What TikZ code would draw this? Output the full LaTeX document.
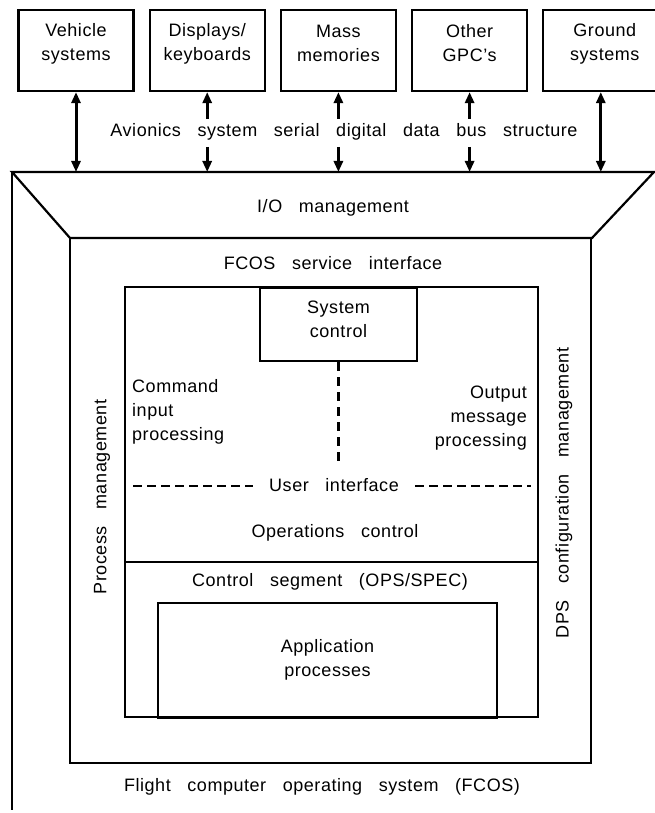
\documentclass[tikz,border=0pt]{standalone}
\usepackage{fontspec}
\setmainfont{Liberation Sans}[LetterSpace=3,WordSpace=3]
\usetikzlibrary{arrows.meta,positioning}

\begin{document}
\begin{tikzpicture}[x=1pt,y=-1pt,node distance=14pt,>={Triangle[length=11pt,width=9pt]},
    font=\fontsize{18}{24}\selectfont]
    \tikzstyle{unit}=[rectangle,draw,line width=2.2pt,minimum width=115pt,minimum height=81pt,inner sep=0pt]
    \tikzstyle{txt}=[align=center,inner sep=0pt]
    \tikzstyle{bus}=[line width=3pt]
    \tikzstyle{frame}=[line width=2.2pt]
    \tikzstyle{dashline}=[line width=2.2pt,dash pattern=on 9pt off 5pt]
    \useasboundingbox (0,0) rectangle (655,813);

    % units on the bus
    \node [unit] (veh) at (76,50.5) [label={[txt,yshift=7pt]center:Vehicle\\systems}] {};
    \node [unit] (disp) [right=of veh, label={[txt,yshift=7pt]center:Displays/\\keyboards}] {};
    \node [unit] (mass) [right=of disp, label={[txt,yshift=7pt]center:Mass\\memories}] {};
    \node [unit] (gpc) [right=of mass, label={[txt,yshift=7pt]center:Other\\GPC's}] {};
    \node [unit] (gnd) [right=of gpc, label={[txt,yshift=7pt,xshift=4pt]center:Ground\\systems}] {};
    \node (busl) at (344,132) {Avionics system serial digital data bus structure};

    % I/O management
    \coordinate (iotl) at (12,172);
    \coordinate (iotr) at (654,172);
    \coordinate (iobl) at (70,238);
    \coordinate (iobr) at (592,238);
    \coordinate (fbot) at (12,810);
    \draw [frame] (iotl) -- (iotr) -- (iobr) -- (iobl) -- cycle;
    \draw [frame] (iotl) -- (fbot);
    \node (io) at (333,208) {I/O management};

    \draw [bus,<->] (veh.south) -- (veh.south |- iotl);
    \draw [bus,<->] (gnd.south) -- (gnd.south |- iotl);
    \foreach \u in {disp,mass,gpc}{
        \draw [bus,<-] (\u.south) -- ([yshift=-27pt]\u.south);
        \draw [bus,->] ([yshift=25pt]\u.south |- iotl) -- (\u.south |- iotl);
    }

    % FCOS
    \draw [frame] (iobl) rectangle (591,763);
    \node (svc) at (333,263) {FCOS service interface};
    \draw [frame] (125,287) rectangle (538,717);
    \node [unit,minimum width=157pt,minimum height=73pt,anchor=north] (sysc) at (338.5,287)
        [label={[txt,yshift=5pt]center:System\\control}] {};
    \coordinate (sysd) at (338.5,462);
    \draw [dashline,dash pattern=on 9pt off 6pt] (sysc.south) -- (sysd);
    \node [align=left,anchor=west,inner sep=0pt] (cmd) at (132,412) {Command\\input\\processing};
    \node [align=right,anchor=east,inner sep=0pt] (outm) at (527,418) {Output\\message\\processing};
    \node [inner xsep=16pt] (ui) at (334,485) {User interface};
    \coordinate (uil) at (133,486);
    \coordinate (uir) at (531,486);
    \draw [dashline] (uil) -- (uil -| ui.west);
    \draw [dashline] (uir -| ui.east) -- (uir);
    \node (opc) at (335,533) {Operations control};
    \draw [frame] (125,562) -- (538,562);
    \node (seg) at (330,582) {Control segment (OPS/SPEC)};
    \node [unit,minimum width=339pt,minimum height=115pt,anchor=north] (app) at (327.5,602)
        [label={[txt,yshift=1pt]center:Application\\processes}] {};
    \node [rotate=90] (pm) at (102,497) {Process management};
    \node [rotate=90] (dps) at (564,493) {DPS configuration management};
    \node (fcos) at (322,787) {Flight computer operating system (FCOS)};
\end{tikzpicture}
\end{document}
